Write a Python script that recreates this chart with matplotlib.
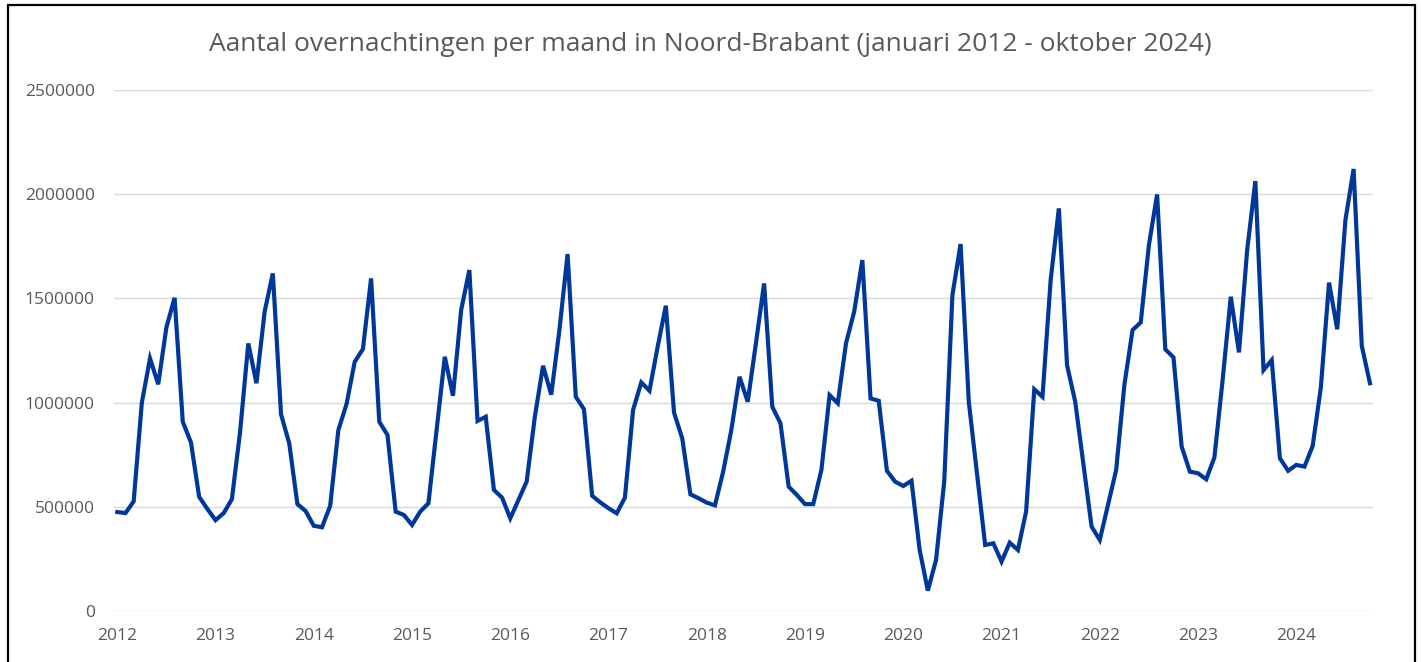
import numpy as np
import matplotlib.pyplot as plt
from matplotlib.patches import Rectangle

# monthly values, jan..dec
y2012 = [475000, 470000, 526000, 1000000, 1212000, 1088000, 1361000, 1503000, 908000, 809000, 548000, 490000]
y2013 = [436000, 470000, 537000, 860000, 1284000, 1093000, 1437000, 1620000, 944000, 805000, 513000, 480000]
y2014 = [409000, 402000, 504000, 868000, 993000, 1196000, 1257000, 1596000, 908000, 845000, 477000, 461000]
y2015 = [413000, 477000, 517000, 870000, 1220000, 1033000, 1444000, 1636000, 912000, 932000, 581000, 544000]
y2016 = [445000, 533000, 621000, 932000, 1177000, 1038000, 1348000, 1713000, 1028000, 968000, 553000, 521000]
y2017 = [493000, 469000, 544000, 965000, 1097000, 1057000, 1268000, 1465000, 952000, 829000, 560000, 541000]
y2018 = [520000, 507000, 669000, 869000, 1124000, 1004000, 1284000, 1572000, 980000, 901000, 597000, 557000]
y2019 = [513000, 513000, 677000, 1036000, 997000, 1284000, 1436000, 1684000, 1020000, 1009000, 673000, 621000]
y2020 = [600000, 625000, 293000, 98000, 245000, 621000, 1516000, 1761000, 1004000, 660000, 317000, 325000]
y2021 = [237000, 328000, 293000, 477000, 1064000, 1028000, 1588000, 1932000, 1180000, 1004000, 705000, 405000]
y2022 = [341000, 509000, 677000, 1084000, 1348000, 1385000, 1756000, 1999000, 1256000, 1217000, 789000, 669000]
y2023 = [661000, 632000, 737000, 1108000, 1508000, 1241000, 1732000, 2063000, 1156000, 1204000, 733000, 673000]
y2024 = [701000, 693000, 792000, 1073000, 1576000, 1352000, 1876000, 2121000, 1272000, 1093000]

years = [str(y) for y in range(2012, 2025)]
yticks = [0, 500000, 1000000, 1500000, 2000000, 2500000]

values = (y2012 + y2013 + y2014 + y2015 + y2016 + y2017 + y2018
          + y2019 + y2020 + y2021 + y2022 + y2023 + y2024)
months = np.arange(len(values))

plt.rcParams['font.family'] = ['Open Sans', 'DejaVu Sans']
GREY = '#595959'

fig = plt.figure(figsize=(14.21, 6.62), dpi=100)
ax = fig.add_axes([0.0804, 0.077, 0.886, 0.787])

ax.plot(months, values, color='#00379B', linewidth=3.0, solid_joinstyle='miter')

ax.set_xlim(-0.37, len(values) - 1 + 0.4)
ax.set_ylim(0, 2500000)
ax.set_yticks(yticks)
ax.set_yticklabels([str(v) for v in yticks])
ax.set_xticks(np.arange(0, len(values), 12))
ax.set_xticklabels(years)

ax.grid(axis='y', color='#D9D9D9', linewidth=1.0)
ax.set_axisbelow(True)
for s in ax.spines.values():
    s.set_visible(False)
ax.tick_params(axis='both', length=0, labelsize=12.5, labelcolor=GREY)
ax.tick_params(axis='y', pad=14)
ax.tick_params(axis='x', pad=12)

fig.text(0.5, 0.933, 'Aantal overnachtingen per maand in Noord-Brabant (januari 2012 - oktober 2024)',
         ha='center', va='center', fontsize=19, color=GREY)

# black frame round the chart
fig.patches.append(Rectangle((8 / 1421, -0.02), 1407 / 1421, 1.02 - 5 / 662,
                             transform=fig.transFigure, fill=False,
                             edgecolor='black', linewidth=1.6))

fig.savefig('out.png', dpi=100)
